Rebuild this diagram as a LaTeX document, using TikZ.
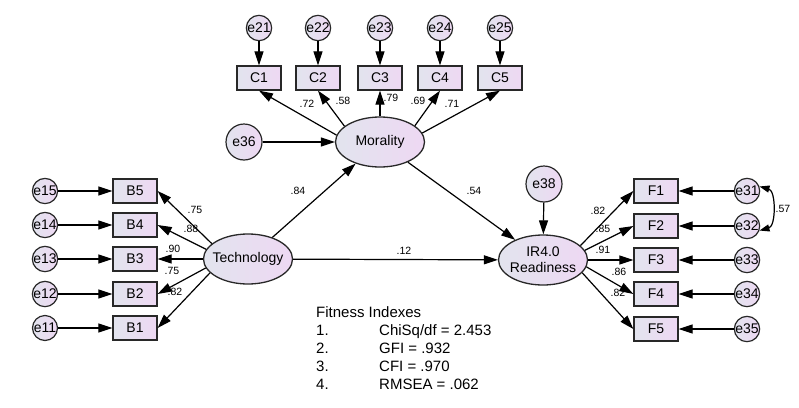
\documentclass[tikz,border=0pt]{standalone}
\usepackage{fontspec}
\setmainfont{Liberation Sans}
\usetikzlibrary{arrows.meta,shapes.geometric}
\definecolor{cL}{RGB}{226,228,238}
\definecolor{cR}{RGB}{238,216,243}
\definecolor{edgec}{RGB}{40,40,40}
\begin{document}
\begin{tikzpicture}[x=1pt,y=-1pt,
  obs/.style={rectangle, draw=edgec, line width=1.3pt, left color=cL, right color=cR,
    minimum width=44pt, minimum height=24pt, inner sep=0pt, font=\fontsize{14}{16}\selectfont},
  lat/.style={ellipse, draw=edgec, line width=1.3pt, left color=cL, right color=cR,
    minimum width=89pt, minimum height=50pt, inner sep=0pt, align=center, font=\fontsize{14}{16}\selectfont},
  err/.style={circle, draw=edgec, line width=1.2pt, left color=cL, right color=cR,
    minimum size=25pt, inner sep=0pt, font=\fontsize{14}{16}\selectfont},
  errbig/.style={err, minimum size=36pt},
  arr/.style={-{Triangle[length=14pt,width=9pt]}, line width=1.2pt},
  cov/.style={{Triangle[length=10pt,width=7pt]}-{Triangle[length=10pt,width=7pt]}, line width=1.2pt},
  coef/.style={font=\fontsize{10.5}{12}\selectfont, inner sep=0pt},
  fit/.style={anchor=base west, inner sep=0pt, font=\fontsize{15}{18}\selectfont}
]
\useasboundingbox (0,0) rectangle (799,407);

% Morality block
\foreach \i/\x in {1/259,2/318,3/380,4/440,5/500}{
  \node[err] (e2\i) at (\x,28) {e2\i};
  \node[obs] (C\i) at (\x,78) {C\i};
}
\node[lat] (mor) at (380,142) {\makebox[0pt]{Morality}};
\node[errbig] (e36) at (244,142) {e36};

% Technology block
\node[lat] (tech) at (248,259) {\makebox[0pt]{Technology}};
\foreach \i/\y in {5/191,4/225,3/259,2/294,1/328}{
  \node[obs] (B\i) at (135,\y) {B\i};
  \node[err] (e1\i) at (45,\y) {e1\i};
}

% IR4.0 block
\node[lat] (ir) at (543,260) {\makebox[0pt]{IR4.0}\\\makebox[0pt]{Readiness}};
\node[errbig] (e38) at (544,184) {e38};
\foreach \i/\y in {1/191,2/226,3/260,4/294,5/329}{
  \node[obs] (F\i) at (656,\y) {F\i};
  \node[err] (e3\i) at (747,\y) {e3\i};
}

% connectors
\foreach \i in {1,...,5}{
  \draw[arr] (e2\i) -- (C\i);
  \draw[arr] (e1\i) -- (B\i);
  \draw[arr] (e3\i) -- (F\i);
}
\foreach \i/\a in {1/171,2/156,3/90,4/25,5/12}{
  \draw[arr] (mor.\a) -- (C\i.south);
}
\foreach \i/\a in {5/157,4/167,3/180,2/192,1/200}{
  \draw[arr] (tech.\a) -- (B\i.east);
}
\foreach \i/\a in {1/21,2/13,3/0,4/-9,5/-18}{
  \draw[arr] (ir.\a) -- (F\i.west);
}
\draw[arr] (e36) -- (mor);
\draw[arr] (e38) -- (ir);
\draw[arr] (tech) -- (mor);
\draw[arr] (tech) -- (ir);
\draw[arr] (mor) -- (ir);
\draw[cov] (e31.20) to[bend left=75] (e32.-20);

% coefficients
\node[coef] (l1) at (307,104) {.72};
\node[coef] (l2) at (343,101) {.58};
\node[coef] (l3) at (391,98) {.79};
\node[coef] (l4) at (418,101) {.69};
\node[coef] (l5) at (452,104) {.71};
\node[coef] (l6) at (195,210) {.75};
\node[coef] (l7) at (191,229) {.88};
\node[coef] (l8) at (173,249) {.90};
\node[coef] (l9) at (172,271) {.75};
\node[coef] (l10) at (175,292) {.82};
\node[coef] (l11) at (298,191) {.84};
\node[coef] (l12) at (474,191) {.54};
\node[coef] (l13) at (404,251) {.12};
\node[coef] (l14) at (598,211) {.82};
\node[coef] (l15) at (603,229) {.85};
\node[coef] (l16) at (603,250) {.91};
\node[coef] (l17) at (619,272) {.86};
\node[coef] (l18) at (618,293) {.82};
\node[coef] (l19) at (783,209) {.57};

% fitness indexes
\node[fit] (t0) at (316,317) {Fitness Indexes};
\node[fit] (n1) at (316,335) {1.};
\node[fit] (v1) at (379,335) {ChiSq/df = 2.453};
\node[fit] (n2) at (316,353) {2.};
\node[fit] (v2) at (379,353) {GFI = .932};
\node[fit] (n3) at (316,371) {3.};
\node[fit] (v3) at (379,371) {CFI = .970};
\node[fit] (n4) at (316,389) {4.};
\node[fit] (v4) at (379,389) {RMSEA = .062};
\end{tikzpicture}
\end{document}
